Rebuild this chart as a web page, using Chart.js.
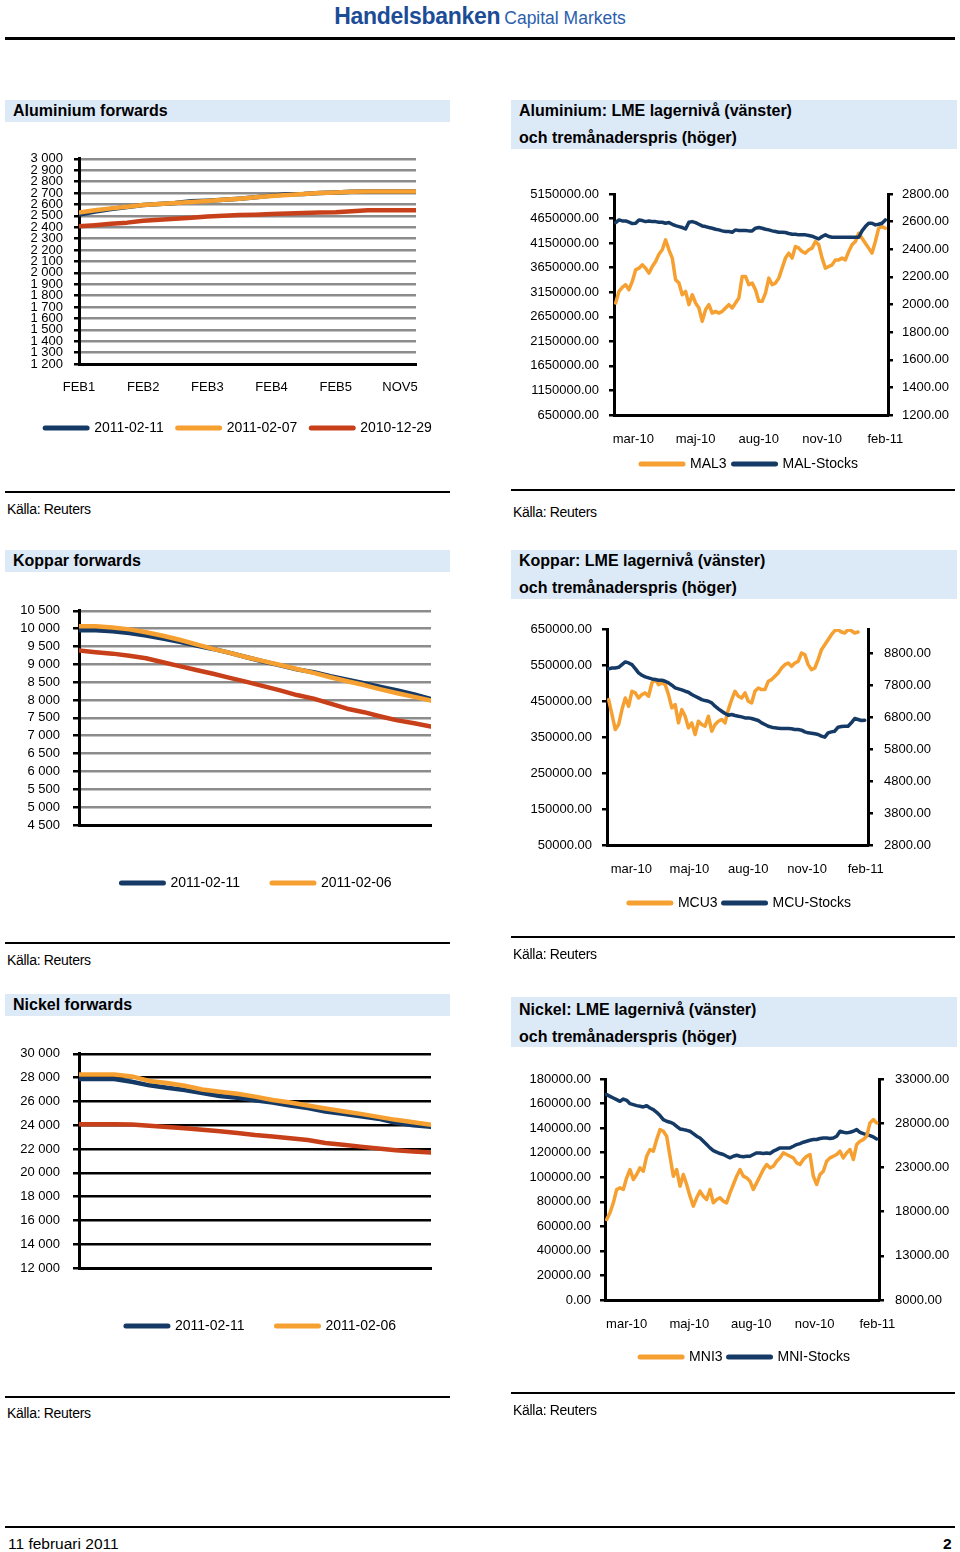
<!DOCTYPE html>
<html>
<head>
<meta charset="utf-8">
<script src="https://cdn.jsdelivr.net/npm/chart.js@4.4.1/dist/chart.umd.min.js"></script>
<style>
  html, body { margin: 0; padding: 0; background: #fff; overflow: hidden; }
  body { width: 960px; height: 1552px; position: relative; font-family: 'Liberation Sans', Arial, sans-serif; color: #000; }
  .abs { position: absolute; }
  .hdr { left: 0; top: 3px; width: 960px; text-align: center; white-space: nowrap; }
  .hdr .b { font-weight: bold; font-size: 23px; color: #1d4c97; letter-spacing: -0.3px; }
  .hdr .c { font-size: 17.5px; color: #2a5ead; margin-left: 4px; }
  .rule { position: absolute; background: #000; }
  .bar { position: absolute; background: #dce9f7; }
  .ttl { position: absolute; font-weight: bold; font-size: 16px; white-space: nowrap; line-height: 18px; }
  .src { position: absolute; font-size: 14px; white-space: nowrap; line-height: 16px; letter-spacing: -0.3px; }
  canvas { position: absolute; }
</style>
</head>
<body>
<div class="abs hdr"><span class="b">Handelsbanken</span><span class="c">Capital Markets</span></div>
<div class="rule" style="left:5px;top:37px;width:950px;height:3px;"></div>

<!-- Row 1 -->
<div class="bar" style="left:5px;top:100px;width:445px;height:22px;"></div>
<div class="ttl" style="left:13px;top:102px;">Aluminium forwards</div>
<div class="bar" style="left:511px;top:100px;width:446px;height:49px;"></div>
<div class="ttl" style="left:519px;top:102px;">Aluminium: LME lagernivå (vänster)</div>
<div class="ttl" style="left:519px;top:129px;">och tremånaderspris (höger)</div>
<canvas id="c1" width="477" height="305" style="left:0px;top:140px;width:477px;height:305px;"></canvas>
<canvas id="c2" width="477" height="321" style="left:511px;top:160px;width:477px;height:321px;"></canvas>
<div class="rule" style="left:5px;top:491px;width:445px;height:2px;"></div>
<div class="src" style="left:7px;top:501px;">Källa: Reuters</div>
<div class="rule" style="left:511px;top:489px;width:444px;height:2px;"></div>
<div class="src" style="left:513px;top:504px;">Källa: Reuters</div>

<!-- Row 2 -->
<div class="bar" style="left:5px;top:550px;width:445px;height:22px;"></div>
<div class="ttl" style="left:13px;top:552px;">Koppar forwards</div>
<div class="bar" style="left:511px;top:550px;width:446px;height:49px;"></div>
<div class="ttl" style="left:519px;top:552px;">Koppar: LME lagernivå (vänster)</div>
<div class="ttl" style="left:519px;top:579px;">och tremånaderspris (höger)</div>
<canvas id="c3" width="513" height="310" style="left:0px;top:590px;width:513px;height:310px;"></canvas>
<canvas id="c4" width="458" height="310" style="left:511px;top:610px;width:458px;height:310px;"></canvas>
<div class="rule" style="left:5px;top:942px;width:445px;height:2px;"></div>
<div class="src" style="left:7px;top:952px;">Källa: Reuters</div>
<div class="rule" style="left:511px;top:936px;width:444px;height:2px;"></div>
<div class="src" style="left:513px;top:946px;">Källa: Reuters</div>

<!-- Row 3 -->
<div class="bar" style="left:5px;top:994px;width:445px;height:22px;"></div>
<div class="ttl" style="left:13px;top:996px;">Nickel forwards</div>
<div class="bar" style="left:511px;top:997px;width:446px;height:50px;"></div>
<div class="ttl" style="left:519px;top:1001px;">Nickel: LME lagernivå (vänster)</div>
<div class="ttl" style="left:519px;top:1028px;">och tremånaderspris (höger)</div>
<canvas id="c5" width="522" height="310" style="left:0px;top:1033px;width:522px;height:310px;"></canvas>
<canvas id="c6" width="468" height="314" style="left:511px;top:1060px;width:468px;height:314px;"></canvas>
<div class="rule" style="left:5px;top:1396px;width:445px;height:2px;"></div>
<div class="src" style="left:7px;top:1405px;">Källa: Reuters</div>
<div class="rule" style="left:511px;top:1392px;width:444px;height:2px;"></div>
<div class="src" style="left:513px;top:1402px;">Källa: Reuters</div>

<!-- Footer -->
<div class="rule" style="left:5px;top:1526px;width:950px;height:2px;"></div>
<div class="abs" style="left:8px;top:1535px;font-size:15.5px;line-height:18px;">11 februari 2011</div>
<div class="abs" style="left:943px;top:1535px;font-size:15.5px;line-height:18px;font-weight:bold;">2</div>

<script>
// ---------------- DATA ----------------
// Aluminium forwards (points every 3 months from FEB1)
const alFwdTickPos = [0, 12, 24, 36, 48, 60];
const alFwdLabels = ['FEB1', 'FEB2', 'FEB3', 'FEB4', 'FEB5', 'NOV5'];
const alFwdYTicks = [1200,1300,1400,1500,1600,1700,1800,1900,2000,2100,2200,2300,2400,2500,2600,2700,2800,2900,3000];
const alFwd_20110211 = [2510,2538,2560,2578,2594,2604,2613,2627,2633,2640,2650,2662,2677,2688,2692,2700,2705,2710,2713,2714,2714,2714];
const alFwd_20110207 = [2529,2548,2565,2580,2595,2604,2613,2622,2630,2640,2650,2662,2673,2683,2692,2700,2705,2710,2713,2714,2714,2714];
const alFwd_20101229 = [2408,2418,2430,2440,2457,2465,2475,2482,2494,2500,2506,2510,2515,2520,2524,2528,2532,2540,2548,2548,2548,2548];

// Aluminium LME stocks (left) and 3-month price (right), trading-day samples
const alLmeTickPos = [5.3, 24, 43, 62, 81];
const alLmeLabels = ['mar-10', 'maj-10', 'aug-10', 'nov-10', 'feb-11'];
const alLmeLeftTicks = [650000,1150000,1650000,2150000,2650000,3150000,3650000,4150000,4650000,5150000];
const alLmeRightTicks = [1200,1400,1600,1800,2000,2200,2400,2600,2800];
const mal3 = [2011,2095,2124,2143,2107,2167,2251,2263,2287,2263,
  2227,2275,2311,2364,2396,2468,2396,2336,2179,2155,
  2071,2095,1999,2071,2011,1975,1878,1962,1999,1938,
  1950,1938,1950,1975,1999,1975,2011,2047,2203,2203,
  2143,2155,2107,2023,2023,2083,2191,2143,2155,2191,
  2263,2336,2372,2336,2420,2408,2384,2372,2396,2408,
  2456,2432,2336,2263,2275,2287,2323,2323,2336,2323,
  2384,2432,2456,2516,2480,2444,2408,2372,2456,2552,
  2564,2552];
const malStocks = [4568000,4622000,4602000,4602000,4575000,4548000,4555000,4622000,4609000,4588000,
  4602000,4588000,4588000,4575000,4575000,4555000,4568000,4534000,4507000,4487000,
  4467000,4439000,4575000,4588000,4568000,4534000,4500000,4487000,4467000,4453000,
  4433000,4419000,4399000,4385000,4385000,4372000,4419000,4406000,4406000,4406000,
  4399000,4399000,4453000,4467000,4453000,4433000,4419000,4399000,4385000,4372000,
  4372000,4365000,4345000,4331000,4331000,4318000,4318000,4318000,4304000,4291000,
  4264000,4236000,4284000,4318000,4284000,4270000,4270000,4270000,4270000,4270000,
  4270000,4270000,4270000,4270000,4399000,4487000,4555000,4555000,4521000,4534000,
  4555000,4622000];

// Koppar forwards
const cuFwdTickPos = [0, 12, 24, 36, 48, 60];
const cuFwdLabels = ['FEB1', 'FEB2', 'FEB3', 'FEB4', 'FEB5', 'FEB6'];
const cuFwdYTicks = [4500,5000,5500,6000,6500,7000,7500,8000,8500,9000,9500,10000,10500];
const cuFwd_20110211 = [9957,9957,9930,9880,9810,9720,9630,9530,9432,9320,9200,9080,8970,8860,8780,8670,8572,8470,8370,8270,8160,8030];
const cuFwd_20110206 = [10066,10066,10030,9980,9900,9800,9690,9560,9432,9320,9200,9090,8980,8870,8760,8640,8527,8420,8300,8190,8090,7984];
const cuFwd_20101229 = [9387,9342,9300,9240,9170,9060,8950,8840,8735,8620,8510,8390,8270,8140,8040,7900,7758,7660,7540,7430,7350,7260];

// Koppar LME
const cuLmeTickPos = [6.8, 24.3, 42, 59.7, 77.3];
const cuLmeLabels = ['mar-10', 'maj-10', 'aug-10', 'nov-10', 'feb-11'];
const cuLmeLeftTicks = [50000,150000,250000,350000,450000,550000,650000];
const cuLmeRightTicks = [2800,3800,4800,5800,6800,7800,8800];
const mcu3 = [7344,6876,6408,6564,7032,7396,7136,7604,7552,7396,
  7500,7552,7448,7864,7968,7812,7864,7812,7500,7084,
  7188,6616,7032,6824,6460,6616,6252,6668,6564,6512,
  6824,6356,6564,6668,6720,6616,7032,7344,7604,7448,
  7396,7552,7292,7240,7604,7708,7656,7656,7916,7968,
  8072,8176,8332,8436,8488,8384,8488,8540,8800,8748,
  8436,8280,8332,8592,8904,9060,9216,9372,9497,9528,
  9456,9424,9528,9497,9424,9456,null,null];
const mcuStocks = [539100,541800,541800,543700,551100,558500,555700,551100,540000,528000,
  521500,516900,514100,511300,509500,507600,507600,504800,500200,493800,
  486400,483600,480800,477100,474300,467900,463300,458600,454000,451200,
  449400,444800,435500,428100,421600,415200,410600,412400,409600,407800,
  405900,403100,403100,401300,398500,395800,389300,384700,380000,377300,
  375400,374500,373600,373600,373600,372700,370800,370800,369000,364300,
  361600,360600,358800,356900,352300,349500,361600,364300,366200,377300,
  379100,380000,380000,389300,401300,398500,395800,396700];

// Nickel forwards
const niFwdTickPos = [0, 6, 12, 18, 24, 30, 36, 42];
const niFwdLabels = ['FEB1', 'AUG1', 'FEB2', 'AUG2', 'FEB3', 'AUG3', 'FEB4', 'AUG4'];
const niFwdYTicks = [12000,14000,16000,18000,20000,22000,24000,26000,28000,30000];
const niFwd_20110211 = [27885,27885,27885,27650,27350,27150,26950,26700,26450,26300,26100,25900,25650,25450,25150,24950,24750,24550,24200,24000,23873];
const niFwd_20110206 = [28265,28265,28265,28100,27723,27550,27320,27000,26820,26640,26400,26120,25900,25650,25400,25180,24950,24700,24450,24250,24036];
const niFwd_20101229 = [24090,24090,24090,24050,23950,23850,23750,23620,23500,23350,23180,23050,22900,22750,22500,22350,22200,22050,21900,21780,21705];

// Nickel LME
const niLmeTickPos = [6, 24.8, 43.4, 62.4, 81.2];
const niLmeLabels = ['mar-10', 'maj-10', 'aug-10', 'nov-10', 'feb-11'];
const niLmeLeftTicks = [0,20000,40000,60000,80000,100000,120000,140000,160000,180000];
const niLmeRightTicks = [8000,13000,18000,23000,28000,33000];
const mni3 = [17112,17865,18994,20500,20688,20500,21818,22759,21630,22194,
  22947,22571,24265,25018,24830,26148,27277,27089,26524,24265,
  22006,22759,20877,22194,21065,19747,18618,19559,20312,19747,
  19371,20500,18994,19371,19559,19182,18994,20124,21065,22006,
  22759,22006,21818,21441,20500,21253,22006,22759,23324,22947,
  23136,23700,24077,24642,24453,24265,24077,23512,23324,23889,
  24265,24453,22006,21065,22194,22571,23700,24077,24265,24453,
  24830,24077,24642,25018,23889,25583,25959,26148,26524,28030,
  28406,28030];
const mniStocks = [167260,165900,164550,163200,161800,163700,162600,159900,159100,158300,
  157800,157200,158300,156400,155100,152900,150200,146900,145600,144800,
  143700,141500,139300,138800,138200,137400,135500,133400,132000,129300,
  126600,123900,121700,120400,119300,118500,117100,115800,117100,117900,
  117100,116600,117100,117100,118500,119800,119800,119300,119800,119300,
  121200,122500,123900,123900,123900,123900,125200,126600,127400,128500,
  129300,130100,130700,130700,131500,132000,132000,131500,132000,133400,
  137400,136600,136100,136600,137400,138800,136600,135500,134700,133900,
  132800,131200];

// ---------------- STYLE ----------------
const NAVY = '#163a66', ORANGE = '#f5a030', RED = '#c8401a';
Chart.defaults.font.family = "'Liberation Sans', Arial, sans-serif";
Chart.defaults.font.size = 13;
Chart.defaults.color = '#000';
Chart.defaults.animation = false;

const fixedTicks = vals => s => { s.ticks = vals.map(v => ({ value: v })); };
const fixW = w => s => { s.width = w; };
const fixH = h => s => { s.height = h; };
const spaceFmt = v => String(v).replace(/\B(?=(\d{3})+(?!\d))/g, ' ');
const pts = (vals, step) => vals.map((v, i) => ({ x: i * step, y: v }));

function ds(label, vals, step, color, width, axis, order) {
  return { label, data: pts(vals, step), borderColor: color, backgroundColor: color,
    borderWidth: width, pointRadius: 0, pointHoverRadius: 0, tension: 0, fill: false,
    spanGaps: false, borderJoinStyle: 'round', borderCapStyle: 'round', yAxisID: axis || 'y', order: order || 0 };
}

function legendOpts(pad, hide) {
  return {
    position: 'bottom', align: 'center',
    labels: {
      usePointStyle: true, pointStyle: 'line', pointStyleWidth: 42, padding: pad,
      font: { size: 14 }, color: '#000',
      sort: (a, b) => a.datasetIndex - b.datasetIndex,
      filter: item => !(hide || []).includes(item.datasetIndex),
      generateLabels: chart => Chart.defaults.plugins.legend.labels.generateLabels(chart).map(it => {
        it.lineWidth = 5; it.pointStyle = 'line'; it.lineCap = 'round'; return it; })
    }
  };
}

function xAxis(min, max, tickPos, labels, h, pad) {
  return { type: 'linear', position: 'bottom', min, max, bounds: 'data',
    afterBuildTicks: fixedTicks(tickPos), afterFit: fixH(h),
    grid: { display: false, drawTicks: false },
    border: { display: true, color: '#000', width: 3 },
    ticks: { autoSkip: false, maxRotation: 0, padding: pad, font: { size: 13 },
      callback: (v, i) => labels[i] } };
}

function yAxis(pos, tickVals, w, fmt, gridColor, tl, pad) {
  return { type: 'linear', position: pos, min: tickVals[0], max: tickVals[tickVals.length - 1], bounds: 'data',
    afterBuildTicks: fixedTicks(tickVals), afterFit: fixW(w),
    grid: { display: true, drawOnChartArea: !!gridColor, color: gridColor || '#000', lineWidth: 2.5,
      drawTicks: true, tickLength: tl, tickColor: '#000', tickWidth: 2.5 },
    border: { display: true, color: '#000', width: 3 },
    ticks: { autoSkip: false, padding: pad, font: { size: 13 }, callback: fmt } };
}

function spacer(w) {
  return { type: 'linear', position: 'right', display: true, afterFit: fixW(w),
    grid: { display: false, drawTicks: false }, border: { display: false }, ticks: { display: false } };
}

const baseOpts = (padTop, scales, legend) => ({
  responsive: false, animation: false, events: [],
  layout: { padding: { top: padTop, left: 0, right: 0, bottom: 0 } },
  plugins: { legend, tooltip: { enabled: false }, title: { display: false } },
  scales
});

const FW = 4.5, LW = 3.5;

// Chart 1: Aluminium forwards
new Chart(document.getElementById('c1'), {
  type: 'line',
  data: { datasets: [
    ds('2011-02-11', alFwd_20110211, 3, NAVY, FW, 'y', 1),
    ds('2011-02-07', alFwd_20110207, 3, ORANGE, FW, 'y', 0),
    ds('2010-12-29', alFwd_20101229, 3, RED, FW, 'y', 2)
  ]},
  options: baseOpts(17, {
    x: xAxis(0, 63, alFwdTickPos, alFwdLabels, 43, 16),
    y: yAxis('left', alFwdYTicks, 79, spaceFmt, '#8c8c8c', 5, 11),
    yR: spacer(61)
  }, legendOpts(14))
});

// Chart 2: Aluminium LME
new Chart(document.getElementById('c2'), {
  type: 'line',
  data: { datasets: [
    ds('MAL3', mal3, 1, ORANGE, LW, 'y1', 1),
    ds('MAL-Stocks', malStocks, 1, NAVY, LW, 'y', 0)
  ]},
  options: baseOpts(34, {
    x: xAxis(-0.5, 81.8, alLmeTickPos, alLmeLabels, 35, 17),
    y: yAxis('left', alLmeLeftTicks, 103, v => v.toFixed(2), null, 5, 10),
    y1: yAxis('right', alLmeRightTicks, 100, v => v.toFixed(2), null, 5, 9)
  }, legendOpts(7))
});

// Chart 3: Koppar forwards
new Chart(document.getElementById('c3'), {
  type: 'line',
  data: { datasets: [
    ds('2011-02-11', cuFwd_20110211, 3, NAVY, FW, 'y', 1),
    ds('2011-02-06', cuFwd_20110206, 3, ORANGE, FW, 'y', 0),
    ds('2010-12-29', cuFwd_20101229, 3, RED, FW, 'y', 2)
  ]},
  options: baseOpts(14, {
    x: xAxis(0, 63, cuFwdTickPos, cuFwdLabels, 19, 17),
    y: yAxis('left', cuFwdYTicks, 79, spaceFmt, '#8c8c8c', 6, 13),
    yR: spacer(82)
  }, legendOpts(32, [2]))
});

// Chart 4: Koppar LME
new Chart(document.getElementById('c4'), {
  type: 'line',
  data: { datasets: [
    ds('MCU3', mcu3, 1, ORANGE, LW, 'y1', 1),
    ds('MCU-Stocks', mcuStocks, 1, NAVY, LW, 'y', 0)
  ]},
  options: baseOpts(19, {
    x: xAxis(-0.5, 78, cuLmeTickPos, cuLmeLabels, 45, 17),
    y: yAxis('left', cuLmeLeftTicks, 96, v => v.toFixed(2), null, 5, 10),
    y1: Object.assign(yAxis('right', cuLmeRightTicks, 101, v => v.toFixed(2), null, 5, 11), { max: 9550 })
  }, legendOpts(6))
});

// Chart 5: Nickel forwards
new Chart(document.getElementById('c5'), {
  type: 'line',
  data: { datasets: [
    ds('2011-02-11', niFwd_20110211, 45.5 / 20, NAVY, FW, 'y', 1),
    ds('2011-02-06', niFwd_20110206, 45.5 / 20, ORANGE, FW, 'y', 0),
    ds('2010-12-29', niFwd_20101229, 45.5 / 20, RED, FW, 'y', 2)
  ]},
  options: baseOpts(14, {
    x: xAxis(0, 45.5, niFwdTickPos, niFwdLabels, 19, 17),
    y: yAxis('left', niFwdYTicks, 79, spaceFmt, '#000', 6, 13),
    yR: spacer(91)
  }, legendOpts(32, [2]))
});

// Chart 6: Nickel LME
new Chart(document.getElementById('c6'), {
  type: 'line',
  data: { datasets: [
    ds('MNI3', mni3, 1, ORANGE, LW, 'y1', 0),
    ds('MNI-Stocks', mniStocks, 1, NAVY, LW, 'y', 1)
  ]},
  options: baseOpts(19, {
    x: xAxis(-0.5, 81.7, niLmeTickPos, niLmeLabels, 44, 17),
    y: yAxis('left', niLmeLeftTicks, 94, v => v.toFixed(2), null, 5, 9),
    y1: yAxis('right', niLmeRightTicks, 100, v => v.toFixed(2), null, 5, 11)
  }, legendOpts(6))
});
</script>
</body>
</html>
